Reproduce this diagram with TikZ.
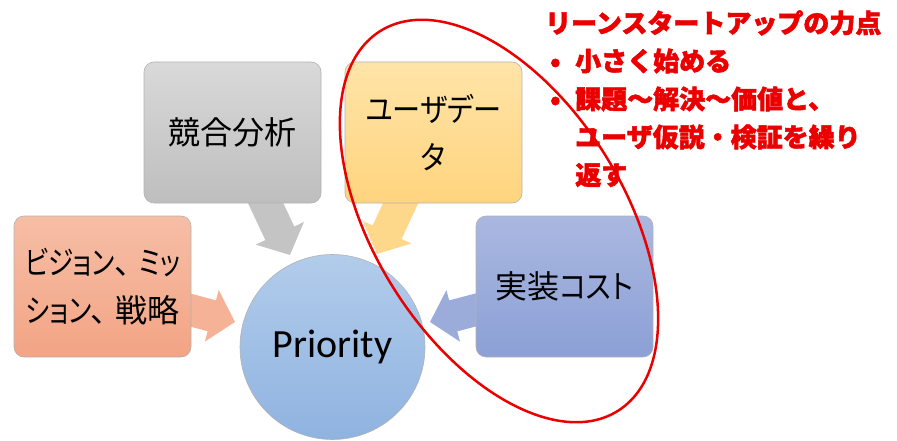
\documentclass[tikz,border=0pt]{standalone}
\usepackage{fontspec}
\setmainfont{Carlito}
\newfontfamily\jp{Noto Sans CJK JP}[RawFeature={+palt}]
\newfontfamily\jpk{Noto Sans CJK JP}[RawFeature={+palt}, FakeStretch=0.88]
\newfontfamily\jpkk{Noto Sans CJK JP}[RawFeature={+palt}, FakeStretch=0.8]
\newfontfamily\jpfull{Noto Sans CJK JP}
\usetikzlibrary{arrows.meta,calc,backgrounds}
\definecolor{salTop}{RGB}{246,190,166}
\definecolor{salBot}{RGB}{243,164,132}
\definecolor{salArr}{RGB}{245,178,150}
\definecolor{grayTop}{RGB}{217,217,217}
\definecolor{grayBot}{RGB}{190,190,190}
\definecolor{grayArr}{RGB}{196,196,196}
\definecolor{yelTop}{RGB}{255,228,168}
\definecolor{yelBot}{RGB}{255,212,126}
\definecolor{yelArr}{RGB}{254,216,138}
\definecolor{bluTop}{RGB}{170,184,224}
\definecolor{bluBot}{RGB}{140,160,214}
\definecolor{bluArr}{RGB}{156,172,218}
\definecolor{cirTop}{RGB}{178,204,235}
\definecolor{cirBot}{RGB}{143,179,224}
\definecolor{lean}{RGB}{235,0,0}
\newcommand\heavytext[1]{\special{pdf:literal direct 2 Tr 0.5 w}#1\special{pdf:literal direct 0 Tr}}
\begin{document}
\begin{tikzpicture}[x=1pt,y=-1pt,
  box/.style={draw=black!30, line width=0.6pt, rounded corners=10pt,
    minimum width=177pt, minimum height=141pt, inner sep=0pt,
    align=center, font=\jp\fontsize{32}{48}\selectfont},
  flow/.style={draw=#1, line width=32pt, -{Triangle[width=52pt,length=24pt]}},
]
\useasboundingbox (0,0) rectangle (897,441);
\node[box, top color=salTop, bottom color=salBot] (vision) at (102.5,286.5) {{\jpkk ビジョン}\makebox[24pt][l]{、}{\jpkk ミッ}\\{\jpkk ション}\makebox[24pt][l]{、}戦略};
\node[box, top color=grayTop, bottom color=grayBot] (compete) at (232.5,132.5) {競合分析};
\node[box, top color=yelTop, bottom color=yelBot] (udata) at (433.5,132.5) {{\jpk ユーザデー}\\{\jpk タ}};
\node[box, top color=bluTop, bottom color=bluBot] (cost) at (564.5,286.5) {実装{\jpk コスト}};
\node[circle, draw=black!30, line width=0.6pt, minimum size=185pt, inner sep=0pt,
  top color=cirTop, bottom color=cirBot, font=\fontsize{40}{48}\selectfont] (prio) at (332.5,347) {Priority};
\coordinate (vtip) at (235,322);
\coordinate (gtip) at (290,255);
\coordinate (ytip) at (377,254);
\coordinate (btip) at (430,322);
\begin{scope}[on background layer]
\draw[flow=salArr] (vision.center) -- (vtip);
\draw[flow=grayArr] (compete.center) -- (gtip);
\draw[flow=yelArr] (udata.center) -- (ytip);
\draw[flow=bluArr] (cost.center) -- (btip);
\end{scope}
\draw[lean, line width=2.5pt, rotate around={-58:(499,221)}] (499,221) ellipse [x radius=224, y radius=125];
\node[anchor=north west, inner sep=0pt, text=lean, font=\jpfull\bfseries\fontsize{26}{38}\selectfont] (memo) at (545,6) {\heavytext{%
\begin{tabular}{@{}l@{}l@{}}
\multicolumn{2}{@{}l@{}}{リーンスタートアップの力点}\\
\makebox[30pt][l]{\hspace{5pt}•} & 小さく始める\\
\makebox[30pt][l]{\hspace{5pt}•} & 課題～解決～価値と、\\
 & ユーザ仮説・検証を繰り\\
 & 返す
\end{tabular}}};
\end{tikzpicture}
\end{document}
